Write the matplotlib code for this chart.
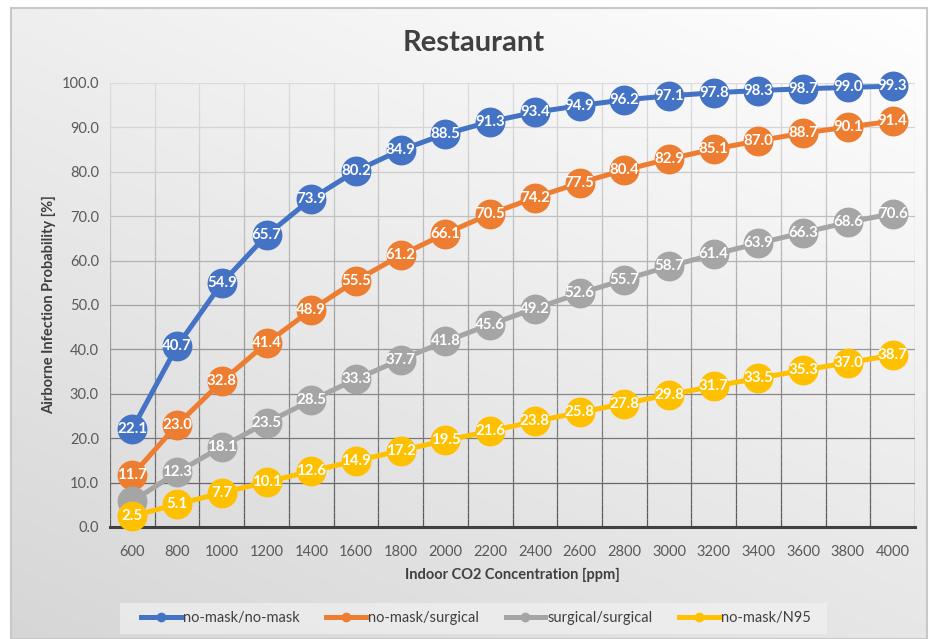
import numpy as np
import matplotlib
matplotlib.use('Agg')
from matplotlib import pyplot as plt
from matplotlib.collections import LineCollection
from matplotlib.lines import Line2D
from matplotlib.patches import Rectangle

# --- data ---
co2 = [600, 800, 1000, 1200, 1400, 1600, 1800, 2000, 2200, 2400, 2600,
       2800, 3000, 3200, 3400, 3600, 3800, 4000]
nomask_nomask = [22.1, 40.7, 54.9, 65.7, 73.9, 80.2, 84.9, 88.5, 91.3, 93.4,
                 94.9, 96.2, 97.1, 97.8, 98.3, 98.7, 99.0, 99.3]
nomask_surgical = [11.7, 23.0, 32.8, 41.4, 48.9, 55.5, 61.2, 66.1, 70.5, 74.2,
                   77.5, 80.4, 82.9, 85.1, 87.0, 88.7, 90.1, 91.4]
surgical_surgical = [5.8, 12.3, 18.1, 23.5, 28.5, 33.3, 37.7, 41.8, 45.6, 49.2,
                     52.6, 55.7, 58.7, 61.4, 63.9, 66.3, 68.6, 70.6]
nomask_n95 = [2.5, 5.1, 7.7, 10.1, 12.6, 14.9, 17.2, 19.5, 21.6, 23.8,
              25.8, 27.8, 29.8, 31.7, 33.5, 35.3, 37.0, 38.7]

series = [nomask_nomask, nomask_surgical, surgical_surgical, nomask_n95]
names = ['no-mask/no-mask', 'no-mask/surgical', 'surgical/surgical', 'no-mask/N95']
colors = ['#4472C4', '#ED7D31', '#A5A5A5', '#FFC000']
# label of surgical/surgical at 600 is hidden behind the N95 marker in the original
hidden_labels = {(2, 0)}

font = 'Lato'
W, H = 933, 639
fig = plt.figure(figsize=(W / 100, H / 100), dpi=100)
fig.patch.set_facecolor('white')

# background panel with soft gradient (white top-right -> grey bottom-left)
bg = fig.add_axes([11 / W, 0, (927 - 11) / W, (H - 8) / H], zorder=-10)
gx, gy = np.meshgrid(np.linspace(1, 0, 300), np.linspace(0, 1, 200))
shade = 1 - 0.16 * (0.4 * gx + 0.6 * gy)
bg.imshow(np.dstack([shade] * 3), aspect='auto', extent=[0, 1, 0, 1], origin='upper')
bg.set_xticks([]); bg.set_yticks([])
for s in bg.spines.values():
    s.set_color('#c8c8c8'); s.set_linewidth(1.5)

# plot area
ax = fig.add_axes([110 / W, (H - 527) / H, (915 - 110) / W, (527 - 83) / H])
ax.patch.set_alpha(0)
x = np.arange(len(co2))
ax.set_xlim(-0.5, len(co2) - 0.5)
ax.set_ylim(0, 100)

# gridlines getting darker towards the bottom
def gcol(yv):
    t = 1 - yv / 100
    c = 0.86 - 0.52 * t ** 1.3
    return (c, c, c)

for yv in range(10, 101, 10):
    ax.plot([-0.5, len(co2) - 0.5], [yv, yv], color=gcol(yv), lw=0.9, zorder=1)
segs, cols = [], []
ys = np.linspace(0, 100, 60)
for xv in np.arange(-0.5, len(co2), 1.0):
    for a, b in zip(ys[:-1], ys[1:]):
        segs.append([(xv, a), (xv, b)])
        cols.append(gcol((a + b) / 2))
ax.add_collection(LineCollection(segs, colors=cols, linewidths=0.9, zorder=1))

for s in ['top', 'right', 'left']:
    ax.spines[s].set_visible(False)
ax.spines['bottom'].set_color('#404040')
ax.spines['bottom'].set_linewidth(2.2)
ax.spines['bottom'].set_zorder(2)

for i, (vals, c) in enumerate(zip(series, colors)):
    ax.plot(x, vals, color=c, lw=3.6, marker='o', markersize=21.5,
            markeredgewidth=0, zorder=3 + 2 * i, clip_on=False)
    for j, (xi, v) in enumerate(zip(x, vals)):
        if (i, j) in hidden_labels:
            continue
        ax.text(xi, v, f'{v:.1f}', color='white', fontsize=10.8, fontweight='bold',
                family=font, ha='center', va='center', zorder=4 + 2 * i)

ax.set_xticks(x)
ax.set_xticklabels([str(v) for v in co2])
ax.set_yticks(range(0, 101, 10))
ax.set_yticklabels([f'{v:.1f}' for v in range(0, 101, 10)])
ax.tick_params(length=0, labelsize=10.5, labelcolor='#595959', pad=8)
for lab in ax.get_xticklabels() + ax.get_yticklabels():
    lab.set_family(font)
ax.tick_params(axis='x', pad=13)

ax.set_xlabel('Indoor CO2 Concentration [ppm]', fontsize=10.5, fontweight='bold',
              color='#404040', family=font, labelpad=6)
ax.set_ylabel('Airborne Infection Probability [%]', fontsize=10.5, fontweight='bold',
              color='#404040', family=font, labelpad=4)

fig.text(474 / W, 1 - 43 / H, 'Restaurant', fontsize=21, fontweight='bold',
         color='#404040', family=font, ha='center', va='center')

# legend box drawn by hand, entries from fig.legend
fig.patches.append(Rectangle((120 / W, 1 - 634 / H), (827 - 120) / W, 31 / H,
                             transform=fig.transFigure, facecolor='#f4f4f4',
                             alpha=0.6, edgecolor='none', zorder=5))
handles = [Line2D([], [], color=c, lw=3.6, marker='o', markersize=6) for c in colors]
leg = fig.legend(handles, names, ncol=4, loc='center',
                 bbox_to_anchor=(476 / W, 1 - 618 / H), frameon=False,
                 prop={'family': font, 'size': 10.5}, handlelength=2.7,
                 handletextpad=0.15, columnspacing=1.85, borderpad=0.2)
for t in leg.get_texts():
    t.set_color('#404040')

fig.savefig('out.png', dpi=100)
